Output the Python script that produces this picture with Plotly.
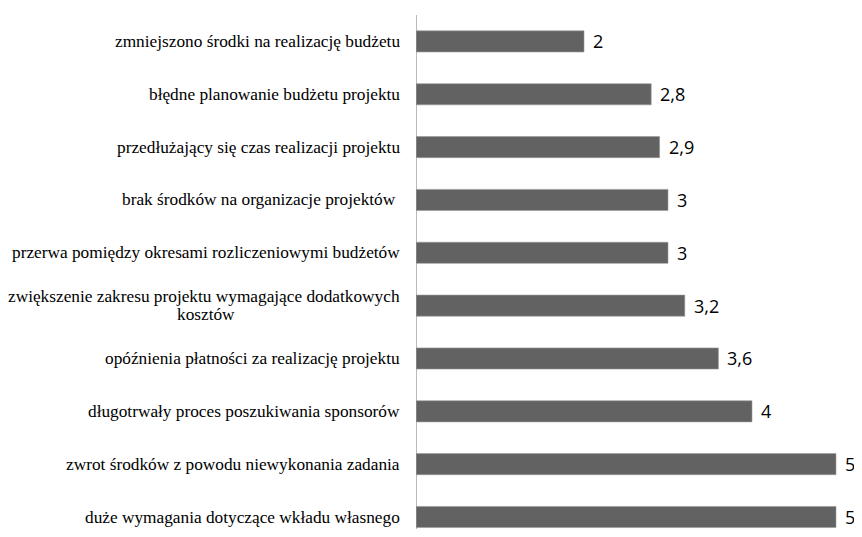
import plotly.graph_objects as go

categories = [
    "duże wymagania dotyczące wkładu własnego",
    "zwrot środków z powodu niewykonania zadania",
    "długotrwały proces poszukiwania sponsorów",
    "opóźnienia płatności za realizację projektu",
    "zwiększenie zakresu projektu wymagające dodatkowych<br>kosztów",
    "przerwa pomiędzy okresami rozliczeniowymi budżetów",
    "brak środków na organizacje projektów ",
    "przedłużający się czas realizacji projektu",
    "błędne planowanie budżetu projektu",
    "zmniejszono środki na realizację budżetu",
]
values = [5, 5, 4, 3.6, 3.2, 3, 3, 2.9, 2.8, 2]
value_labels = ["5", "5", "4", "3,6", "3,2", "3", "3", "2,9", "2,8", "2"]

LABEL_FONT = dict(family="Liberation Serif", size=17.3, color="#000000")
VALUE_FONT = dict(family="Open Sans", size=18, color="#000000")

fig = go.Figure()
fig.add_trace(go.Bar(
    x=values, y=list(range(len(categories))), orientation="h",
    width=0.4,
    marker=dict(color="#626262", line=dict(color="#9a9a9a", width=0.6)),
    hoverinfo="skip",
))

annotations = []
first_line_width_est = 392  # approx. rendered width of the widest label line (px)
for i, (c, v, t) in enumerate(zip(categories, values, value_labels)):
    annotations.append(dict(
        x=v, y=i, xref="x", yref="y", text=t, showarrow=False,
        xanchor="left", yanchor="middle", xshift=7, font=VALUE_FONT,
    ))
    lines = c.split("<br>")
    n = len(lines)
    spacing = 17.5
    for k, line in enumerate(lines):
        annotations.append(dict(
            x=0, y=i, xref="x", yref="y", text=line, showarrow=False,
            xanchor="right" if k == 0 else "center", yanchor="middle",
            xshift=-14 if k == 0 else -14 - first_line_width_est / 2,
            yshift=((n - 1) / 2 - k) * spacing,
            align="center", font=LABEL_FONT,
        ))

fig.update_layout(
    width=846, height=521,
    margin=dict(l=408, r=0, t=6.5, b=0),
    paper_bgcolor="white", plot_bgcolor="white",
    showlegend=False,
    annotations=annotations,
    xaxis=dict(range=[0, 438 / 84], visible=False, showgrid=False, zeroline=False),
    yaxis=dict(range=[-0.227, 9.5], showticklabels=False, showgrid=False,
               zeroline=False, ticks="", showline=False),
    shapes=[dict(type="line", xref="x", yref="paper", x0=0, x1=0, y0=0, y1=1,
                 line=dict(color="#8c8c8c", width=1.2))],
)

fig.write_html("out.html")
